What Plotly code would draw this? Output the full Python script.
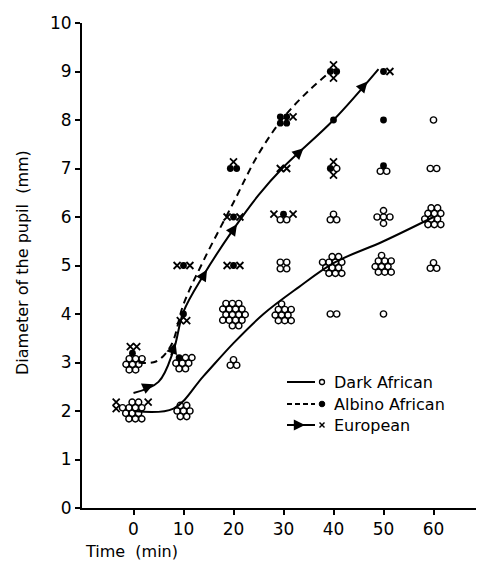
import numpy as np
import plotly.graph_objects as go

# ---------------- data ----------------
tick_times = [0, 10, 20, 30, 40, 50, 60]
tick_diams = [0, 1, 2, 3, 4, 5, 6, 7, 8, 9, 10]

# individual observations (counts of subjects per time / diameter)
dark_time  = [0, 0, 10, 10, 20, 20, 30, 30, 30, 40, 40, 40, 40, 50, 50, 50, 50, 60, 60, 60, 60]
dark_diam  = [2, 3, 2, 3, 3, 4, 4, 5, 6, 4, 5, 6, 7, 4, 5, 6, 7, 5, 6, 7, 8]
dark_count = [12, 8, 7, 7, 3, 17, 10, 4, 2, 2, 12, 3, 1, 1, 10, 5, 2, 3, 11, 2, 1]

albino_time  = [0, 10, 10, 10, 20, 20, 20, 30, 30, 40, 40, 40, 50, 50, 50]
albino_diam  = [3, 3, 4, 5, 5, 6, 7, 6, 8, 7, 8, 9, 7, 8, 9]
albino_count = [1, 1, 1, 1, 1, 1, 2, 1, 4, 1, 1, 2, 1, 1, 1]

euro_time  = [0, 0, 10, 10, 20, 20, 20, 30, 30, 30, 40, 40, 50]
euro_diam  = [2, 3, 4, 5, 5, 6, 7, 6, 7, 8, 7, 9, 9]
euro_count = [3, 2, 2, 2, 2, 2, 1, 2, 2, 1, 2, 2, 1]

# mean curves (knots)
dark_curve_t = [0, 8, 14, 20, 26, 33, 40, 50, 60]
dark_curve_y = [2.0, 2.05, 2.72, 3.4, 4.0, 4.55, 5.05, 5.5, 6.0]

albino_curve_t = [1, 4.5, 7.5, 10, 14, 20, 25, 30, 35, 40]
albino_curve_y = [3.0, 3.02, 3.35, 4.2, 5.1, 6.3, 7.3, 8.05, 8.6, 9.05]

euro_curve_t = [0, 5, 8, 10, 14, 20, 25, 30, 40, 49]
euro_curve_y = [2.37, 2.6, 3.25, 4.05, 4.8, 5.75, 6.45, 7.03, 8.0, 9.05]
euro_arrow_t = [4, 8.4, 14.7, 20.7, 34, 46.8]

series_names = ["Dark African", "Albino African", "European"]

# ---------------- layout constants (screen pixels) ----------------
OFF = 8                     # default page margin around the plot div
SCR_W, SCR_H = 484, 561
PL, PR, PT, PB = 82, 484, 23, 508   # plot area edges on screen
W, H = SCR_W - OFF, SCR_H - OFF
ML, MR, MT, MB = PL - OFF, 0, PT - OFF, SCR_H - PB
XR = [-10.3, 70.1]
YR = [0, 10]
PW, PH = PR - PL, PB - PT
XPP = (XR[1] - XR[0]) / PW
YPP = (YR[1] - YR[0]) / PH
S = 6.4  # marker spacing in px
FONT = "DejaVu Sans"

x_modes = {(0, 3): "top", (10, 4): "below", (20, 7): "top", (30, 8): "right",
           (40, 7): "stack", (40, 9): "stack", (50, 9): "right"}


def pack(n, s=S):
    if n <= 0:
        return []
    if n == 1:
        return [(0.0, 0.0)]
    if n == 2:
        return [(-s / 2, 0.0), (s / 2, 0.0)]
    if n == 3:
        h = s * 0.866
        return [(0.0, h / 2), (-s / 2, -h / 2), (s / 2, -h / 2)]
    if n == 4:
        return [(-s / 2, s / 2), (s / 2, s / 2), (-s / 2, -s / 2), (s / 2, -s / 2)]
    if n == 5:
        return [(0.0, s), (-s, 0.0), (0.0, 0.0), (s, 0.0), (0.0, -s)]
    pts = []
    for j in range(-5, 6):
        for i in range(-5, 6):
            pts.append((i * s + (s / 2 if j % 2 else 0), j * s * 0.866))
    c = (0.13 * s, 0.21 * s)
    pts.sort(key=lambda p: (p[0] - c[0]) ** 2 + (p[1] - c[1]) ** 2)
    pts = pts[:n]
    mx = np.mean([p[0] for p in pts]); my = np.mean([p[1] for p in pts])
    return [(p[0] - mx, p[1] - my) for p in pts]


def lookup(times, diams, counts):
    return {(t, d): c for t, d, c in zip(times, diams, counts)}


dark_map = lookup(dark_time, dark_diam, dark_count)
alb_map = lookup(albino_time, albino_diam, albino_count)
eur_map = lookup(euro_time, euro_diam, euro_count)
cells = sorted(set(dark_map) | set(alb_map) | set(eur_map))

pos = {"o": ([], []), "d": ([], []), "x": ([], [])}
for cell in cells:
    t, d = cell
    nc, nd, nx = dark_map.get(cell, 0), alb_map.get(cell, 0), eur_map.get(cell, 0)
    base = pack(nc + nd)
    base.sort(key=lambda p: (-round(p[1], 3), p[0]))
    pts = [("d", p) for p in base[:nd]] + [("o", p) for p in base[nd:]]
    if nx:
        if not base:
            xs = pack(nx)
        else:
            left = min(p[0] for p in base); right = max(p[0] for p in base)
            top = max(p[1] for p in base); bot = min(p[1] for p in base)
            mode = x_modes.get(cell, "side")
            xs = []
            for k in range(nx):
                if mode == "side":
                    side = -1 if k % 2 == 0 else 1
                    xx = (left - S) if side < 0 else (right + S)
                    xs.append((xx, top - (k // 2) * S))
                elif mode == "right":
                    xs.append((right + S, top - k * S))
                elif mode == "top":
                    xs.append(((k - (nx - 1) / 2) * S, top + S * 1.05))
                elif mode == "below":
                    xs.append(((k - (nx - 1) / 2) * S, bot - S * 1.05))
                else:
                    xs.append((0.0, top + S * 1.05 if k % 2 == 0 else bot - S * 1.05))
        pts += [("x", p) for p in xs]
    for kind, (dx, dy) in pts:
        pos[kind][0].append(t + dx * XPP)
        pos[kind][1].append(d + dy * YPP)

fig = go.Figure()

SM = 1.0
fig.add_trace(go.Scatter(x=dark_curve_t, y=dark_curve_y, mode="lines", name=series_names[0],
                         line=dict(color="black", width=2, shape="spline", smoothing=SM),
                         showlegend=False))
fig.add_trace(go.Scatter(x=albino_curve_t, y=albino_curve_y, mode="lines", name=series_names[1],
                         line=dict(color="black", width=2, shape="spline", smoothing=SM, dash="7px,5px"),
                         showlegend=False))
fig.add_trace(go.Scatter(x=euro_curve_t, y=euro_curve_y, mode="lines", name=series_names[2],
                         line=dict(color="black", width=2, shape="spline", smoothing=SM),
                         showlegend=False))

fig.add_trace(go.Scatter(x=pos["o"][0], y=pos["o"][1], mode="markers", name=series_names[0],
                         marker=dict(symbol="circle-open", size=6.3, color="black", line=dict(width=1.4)),
                         showlegend=False, cliponaxis=False))
fig.add_trace(go.Scatter(x=pos["d"][0], y=pos["d"][1], mode="markers", name=series_names[1],
                         marker=dict(symbol="circle", size=6.8, color="black"),
                         showlegend=False, cliponaxis=False))
fig.add_trace(go.Scatter(x=pos["x"][0], y=pos["x"][1], mode="markers", name=series_names[2],
                         marker=dict(symbol="x-thin-open", size=7, color="black", line=dict(width=1.8, color="black")),
                         showlegend=False, cliponaxis=False))

annotations = []
for ta in euro_arrow_t:
    ya = float(np.interp(ta, euro_curve_t, euro_curve_y))
    tb = ta - 1.0
    yb = float(np.interp(tb, euro_curve_t, euro_curve_y))
    annotations.append(dict(x=ta, y=ya, ax=tb, ay=yb, xref="x", yref="y", axref="x", ayref="y",
                            text="", showarrow=True, arrowhead=2, arrowsize=1.4, arrowwidth=1.6,
                            arrowcolor="black", standoff=0, startstandoff=0))


def px2paper(px, py):
    return (px - PL) / PW, (PB - py) / PH


xx, yy = px2paper(83, 551)
annotations.append(dict(text="Time  (min)", x=xx, y=yy, xref="paper", yref="paper", showarrow=False,
                        xanchor="left", yanchor="middle", font=dict(family=FONT, size=16, color="black")))
xx, yy = px2paper(22, 263)
annotations.append(dict(text="Diameter of the pupil  (mm)", x=xx, y=yy, xref="paper", yref="paper",
                        showarrow=False, textangle=-90, xanchor="center", yanchor="middle",
                        font=dict(family=FONT, size=16, color="black")))

shapes = []
leg_rows = [382, 404, 425]
for i, name in enumerate(series_names):
    py = leg_rows[i]
    x0, y0 = px2paper(287, py)
    x1, _ = px2paper(315, py)
    shapes.append(dict(type="line", xref="paper", yref="paper", x0=x0, x1=x1, y0=y0, y1=y0,
                       line=dict(color="black", width=2, dash="5px,3px" if i == 1 else "solid")))
    mx, my = px2paper(322, py)
    if i == 0:
        shapes.append(dict(type="circle", xref="paper", yref="paper", xsizemode="pixel", ysizemode="pixel",
                           xanchor=mx, yanchor=my, x0=-2.5, x1=2.5, y0=-2.5, y1=2.5,
                           line=dict(color="black", width=1.3)))
    elif i == 1:
        shapes.append(dict(type="circle", xref="paper", yref="paper", xsizemode="pixel", ysizemode="pixel",
                           xanchor=mx, yanchor=my, x0=-2.8, x1=2.8, y0=-2.8, y1=2.8,
                           fillcolor="black", line=dict(color="black", width=1)))
    else:
        for sgn in (-1, 1):
            shapes.append(dict(type="line", xref="paper", yref="paper", xsizemode="pixel", ysizemode="pixel",
                               xanchor=mx, yanchor=my, x0=-2.5, x1=2.5, y0=-2.5 * sgn, y1=2.5 * sgn,
                               line=dict(color="black", width=1.4)))
        hx, hy = px2paper(305, py)
        annotations.append(dict(x=hx, y=hy, xref="paper", yref="paper", ax=-6, ay=0, text="",
                                showarrow=True, arrowhead=2, arrowsize=1.4, arrowwidth=1.6,
                                arrowcolor="black", standoff=0))
    tx, ty = px2paper(332, py)
    annotations.append(dict(text=name, x=tx, y=ty, xref="paper", yref="paper", showarrow=False,
                            xanchor="left", yanchor="middle", font=dict(family=FONT, size=16, color="black")))

axis_common = dict(showgrid=False, zeroline=False, showline=True, linecolor="black", linewidth=2,
                   ticks="outside", ticklen=5, tickwidth=1.8, tickcolor="black",
                   tickfont=dict(family=FONT, size=17, color="black"))

fig.update_layout(
    width=W, height=H, margin=dict(l=ML, r=MR, t=MT, b=MB, autoexpand=False),
    paper_bgcolor="white", plot_bgcolor="white",
    xaxis=dict(range=XR, tickvals=tick_times, ticktext=[str(v) for v in tick_times], **axis_common),
    yaxis=dict(range=YR, tickvals=tick_diams, ticktext=[str(v) for v in tick_diams], **axis_common),
    annotations=annotations, shapes=shapes, showlegend=False,
)

fig.write_html("out.html")
